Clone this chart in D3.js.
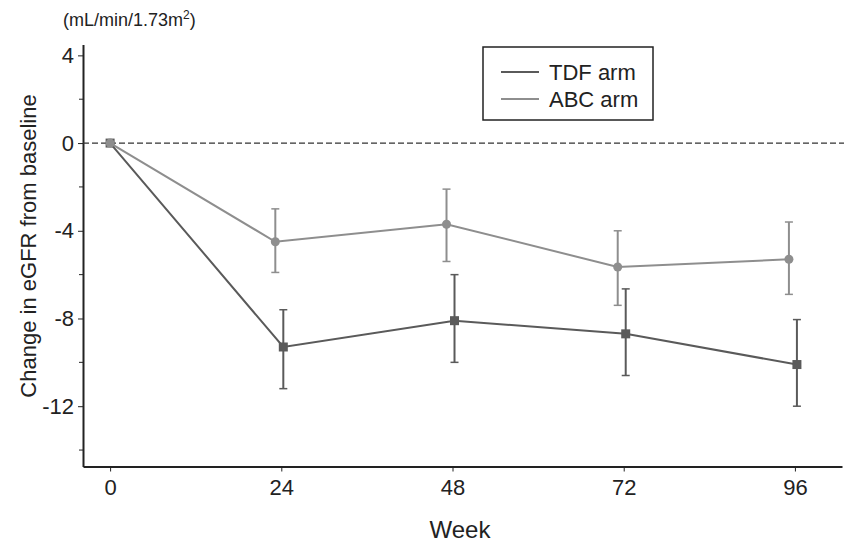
<!DOCTYPE html>
<html>
<head>
<meta charset="utf-8">
<script src="https://cdn.jsdelivr.net/npm/d3@7"></script>
<style>
  body { margin: 0; background: #fff; }
  svg { font-family: "Liberation Sans", Arial, sans-serif; }
</style>
</head>
<body>
<div id="chart"></div>
<script>
// data
const weeks = [0, 24, 48, 72, 96];
const tdfMean = [0, -9.3, -8.1, -8.7, -10.1];
const tdfUpper = [0, -7.6, -6.0, -6.65, -8.05];
const tdfLower = [0, -11.2, -10.0, -10.6, -12.0];
const abcMean = [0, -4.5, -3.7, -5.65, -5.3];
const abcUpper = [0, -3.0, -2.1, -4.0, -3.6];
const abcLower = [0, -5.9, -5.4, -7.4, -6.9];
const yMajor = [4, 0, -4, -8, -12];
const yMinor = [2, -2, -6, -10, -14];

const W = 844, H = 542;
const svg = d3.select('#chart').append('svg')
	.attr('width', W)
	.attr('height', H);

const x = d3.scaleLinear().domain([-3.8, 102.6]).range([83, 842]);
const y = d3.scaleLinear().domain([-14.75, 4.5]).range([466.5, 44.4]);

const axisColor = '#222';

// y axis
const yAxis = svg.append('g')
	.attr('transform', `translate(${x(-3.8)},0)`)
	.call(d3.axisLeft(y).tickValues(yMajor).tickSize(5).tickSizeOuter(0));
yAxis.select('.domain').attr('stroke', axisColor).attr('stroke-width', 2);
yAxis.selectAll('.tick line').attr('stroke', axisColor);
yAxis.selectAll('.tick text')
	.attr('font-size', 22)
	.attr('fill', '#222')
	.attr('x', -9)
	.text(d => d < 0 ? '-' + Math.abs(d) : d);
yAxis.attr('font-family', null);

svg.append('g').selectAll('line')
	.data(yMinor)
	.join('line')
	.attr('x1', x(-3.8) - 4).attr('x2', x(-3.8))
	.attr('y1', d => y(d)).attr('y2', d => y(d))
	.attr('stroke', axisColor);

// x axis
const xAxis = svg.append('g')
	.attr('transform', `translate(0,${y(-14.75)})`)
	.call(d3.axisBottom(x).tickValues(weeks).tickSize(5).tickSizeOuter(0));
xAxis.select('.domain').attr('stroke', axisColor).attr('stroke-width', 2);
xAxis.selectAll('.tick line').attr('stroke', axisColor);
xAxis.selectAll('.tick text')
	.attr('font-size', 22)
	.attr('fill', '#222')
	.attr('y', 28)
	.attr('dy', 0);
xAxis.attr('font-family', null);

// zero reference line
svg.append('line')
	.attr('x1', x(-3.8)).attr('x2', W)
	.attr('y1', y(0)).attr('y2', y(0))
	.attr('stroke', '#333')
	.attr('stroke-width', 1.3)
	.attr('stroke-dasharray', '6,3');

// series
const series = [
	{name: 'TDF arm', mean: tdfMean, up: tdfUpper, lo: tdfLower, color: '#5a5a5a', shift: 2, shape: 'square'},
	{name: 'ABC arm', mean: abcMean, up: abcUpper, lo: abcLower, color: '#8e8e8e', shift: -6, shape: 'circle'}
];

series.forEach(s => {
	const pts = weeks.map((w, i) => ({w: w, m: s.mean[i], u: s.up[i], l: s.lo[i], i: i}));
	const px = d => x(d.w) + (d.i === 0 ? 0 : s.shift);
	const g = svg.append('g');

	g.append('path')
		.datum(pts)
		.attr('fill', 'none')
		.attr('stroke', s.color)
		.attr('stroke-width', 2)
		.attr('d', d3.line().x(px).y(d => y(d.m)));

	const err = g.selectAll('.err').data(pts.slice(1)).join('g');
	err.append('line')
		.attr('x1', px).attr('x2', px)
		.attr('y1', d => y(d.u)).attr('y2', d => y(d.l))
		.attr('stroke', s.color).attr('stroke-width', 2);
	err.append('line')
		.attr('x1', d => px(d) - 4).attr('x2', d => px(d) + 4)
		.attr('y1', d => y(d.u)).attr('y2', d => y(d.u))
		.attr('stroke', s.color).attr('stroke-width', 1.5);
	err.append('line')
		.attr('x1', d => px(d) - 4).attr('x2', d => px(d) + 4)
		.attr('y1', d => y(d.l)).attr('y2', d => y(d.l))
		.attr('stroke', s.color).attr('stroke-width', 1.5);

	if (s.shape === 'square') {
		g.selectAll('rect').data(pts).join('rect')
			.attr('x', d => px(d) - 4.5).attr('y', d => y(d.m) - 4.5)
			.attr('width', 9).attr('height', 9)
			.attr('fill', s.color);
	} else {
		g.selectAll('circle').data(pts).join('circle')
			.attr('cx', px).attr('cy', d => y(d.m))
			.attr('r', 4.5)
			.attr('fill', s.color);
	}
});

// legend
const leg = svg.append('g');
leg.append('rect')
	.attr('x', 483).attr('y', 47)
	.attr('width', 170).attr('height', 73)
	.attr('fill', '#fff')
	.attr('stroke', '#222')
	.attr('stroke-width', 1.5);
series.forEach((s, i) => {
	const ly = 72 + i * 27;
	leg.append('line')
		.attr('x1', 501).attr('x2', 539)
		.attr('y1', ly).attr('y2', ly)
		.attr('stroke', s.color).attr('stroke-width', 2);
	leg.append('text')
		.attr('x', 549).attr('y', ly + 8)
		.attr('font-size', 22)
		.attr('fill', '#222')
		.text(s.name);
});

// labels
svg.append('text')
	.attr('x', 63).attr('y', 26)
	.attr('font-size', 18)
	.attr('fill', '#222')
	.html('(mL/min/1.73m<tspan font-size="12" dy="-7">2</tspan><tspan dy="7">)</tspan>');

svg.append('text')
	.attr('transform', `translate(36,246) rotate(-90)`)
	.attr('text-anchor', 'middle')
	.attr('font-size', 22)
	.attr('fill', '#222')
	.text('Change in eGFR from baseline');

svg.append('text')
	.attr('x', 460).attr('y', 538)
	.attr('text-anchor', 'middle')
	.attr('font-size', 24)
	.attr('fill', '#222')
	.text('Week');
</script>
</body>
</html>
